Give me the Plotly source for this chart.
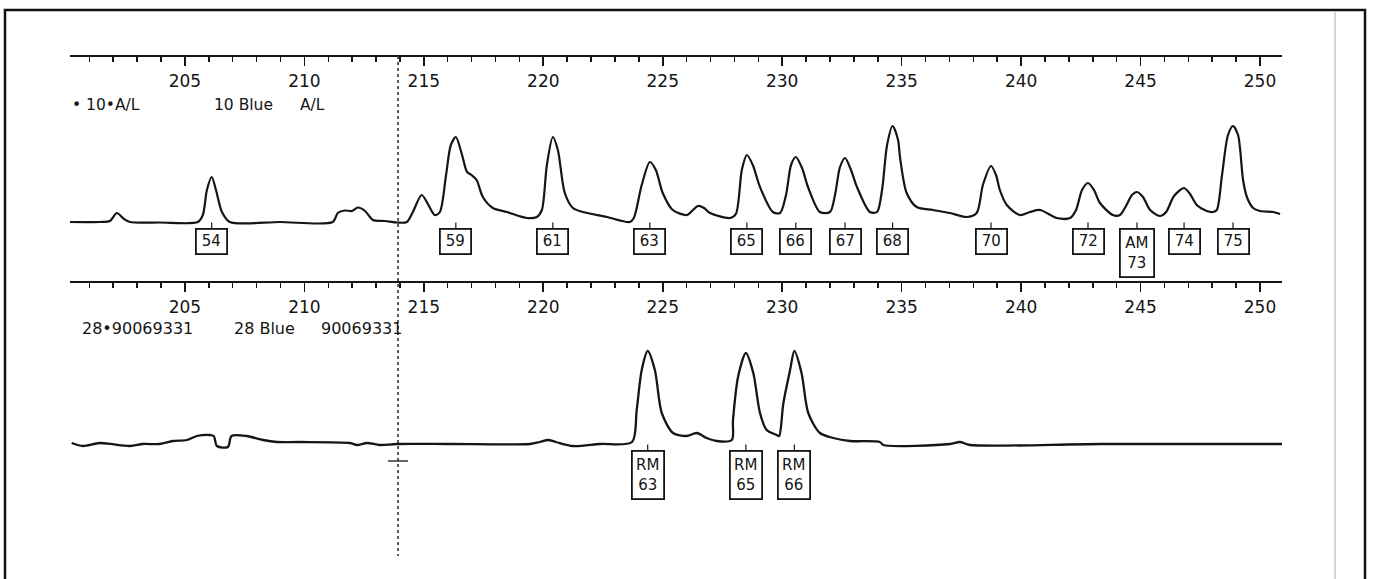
import plotly.graph_objects as go

W, H = 1374, 579

# ---- data (bp, signal) ----
top_bp = [200.19, 201.44, 201.86, 202.15, 202.45, 202.70, 203.95, 205.54, 205.75, 205.92, 206.12, 206.30, 206.55, 206.88,
          208.98, 211.19, 211.40, 211.70, 211.99, 212.24, 212.54, 212.87, 213.37, 213.87, 214.29, 214.54, 214.91, 215.17,
          215.46, 215.67, 215.93, 216.13, 216.34, 216.60, 216.81, 217.00, 217.21, 217.47, 217.89, 218.48, 219.32, 219.73,
          219.94, 220.15, 220.40, 220.61, 220.90, 221.24, 221.66, 222.66, 223.62, 223.79, 224.12, 224.46, 224.71, 225.00,
          225.42, 226.01, 226.27, 226.47, 226.73, 226.98, 227.81, 228.06, 228.31, 228.52, 228.77, 229.07, 229.61, 229.91,
          230.16, 230.37, 230.57, 230.83, 231.08, 231.58, 232.00, 232.21, 232.42, 232.63, 232.88, 233.13, 233.67, 233.97,
          234.18, 234.39, 234.62, 234.85, 234.93, 235.21, 235.63, 236.31, 237.02, 237.72, 238.14, 238.40, 238.74, 238.95,
          239.11, 239.40, 239.95, 240.37, 240.79, 241.49, 242.05, 242.30, 242.55, 242.80, 243.05, 243.30, 243.84, 244.14,
          244.39, 244.64, 244.85, 245.10, 245.40, 245.81, 246.07, 246.40, 246.82, 247.07, 247.35, 247.77, 248.03, 248.19,
          248.41, 248.66, 248.87, 249.08, 249.29, 249.45, 249.71, 250.00, 250.55, 250.84]
top_sig = [0, 0, 1, 9, 3, 0, -0.5, 0, 7, 32, 45, 32, 10, 0,
           0, 0, 9, 11.5, 11, 14.5, 11, 2, 1, -0.5, 0, 10, 27, 18,
           7, 10, 47, 77, 85, 67, 50, 47, 42, 25, 14, 10, 4, 5,
           12, 57, 85, 72, 29, 14, 10, 5, 0, 4, 37, 60, 52, 29,
           12, 7, 12, 16, 14, 9, 4, 8, 52, 67, 57, 35, 10, 9,
           27, 57, 65, 54, 35, 10, 10, 27, 55, 64, 52, 35, 10, 10,
           32, 77, 96, 82, 65, 29, 15, 12, 9, 5, 9, 37, 56, 47,
           32, 17, 7, 10, 12, 4, 4, 12, 32, 39, 32, 19, 7, 7,
           16, 27, 30, 25, 12, 6, 10, 26, 34, 28, 17, 11, 10, 12,
           47, 87, 96, 87, 42, 25, 14, 11, 10, 8]

bot_bp = [200.26, 200.73, 201.44, 202.70, 203.24, 203.95, 204.50, 205.08, 205.50, 206.05, 206.21, 206.34, 206.80, 206.95,
          207.58, 208.27, 208.85, 209.81, 211.91, 212.20, 212.62, 213.16, 213.87, 216.09, 219.44, 219.86, 220.20, 220.53,
          221.24, 222.37, 223.71, 223.91, 224.12, 224.37, 224.67, 224.96, 225.43, 226.00, 226.42, 226.84, 227.26, 227.89,
          227.94, 228.16, 228.48, 228.79, 229.07, 229.35, 229.77, 229.87, 230.05, 230.33, 230.51, 230.81, 231.09, 231.58,
          232.14, 232.84, 234.09, 234.23, 237.02, 237.44, 237.86, 243.30, 250.92]
bot_sig = [0, -3, 0, -3, -1, -1, 2, 3, 7, 8, 7, -3, -4, 7,
           7, 3, 1, 1, 0, -2, 0, -2, -1, -1, -1, 1, 3, 1,
           -3, -1, 1, 33, 73, 92, 73, 30, 10, 7, 10, 5, 2, 3,
           23, 67, 90, 70, 30, 13, 8, 7, 40, 73, 92, 70, 30, 10,
           5, 2, 1, -2, -1, 1, -2, -1, -1]

top_label_bp = [206.12, 216.34, 220.40, 224.46, 228.52, 230.57, 232.63, 234.62, 238.74, 242.80, 244.85, 246.82, 248.87]
top_label_txt = ["54", "59", "61", "63", "65", "66", "67", "68", "70", "72", "AM<br>73", "74", "75"]
bot_label_bp = [224.37, 228.48, 230.51]
bot_label_txt = ["RM<br>63", "RM<br>65", "RM<br>66"]

major_ticks = [205, 210, 215, 220, 225, 230, 235, 240, 245, 250]
x_range = [200.19, 250.92]
cursor_bp = 213.92

top_header = ["\u2022 10\u2022A/L", "10 Blue", "A/L"]
bot_header = ["28\u202290069331", "28 Blue", "90069331"]

# ---- figure ----
FONT = "DejaVu Sans, Verdana, sans-serif"
INK = "#151515"


def px_x(p):
    return p / W


def px_y(p):
    return 1 - p / H


fig = go.Figure()
fig.add_trace(go.Scatter(x=top_bp, y=top_sig, mode="lines",
                         line=dict(color=INK, width=2.2, shape="spline", smoothing=0.8),
                         xaxis="x", yaxis="y", hoverinfo="skip", showlegend=False))
fig.add_trace(go.Scatter(x=bot_bp, y=bot_sig, mode="lines",
                         line=dict(color=INK, width=2.3, shape="spline", smoothing=0.8),
                         xaxis="x2", yaxis="y2", hoverinfo="skip", showlegend=False))
# small ticks above label boxes
fig.add_trace(go.Scatter(x=top_label_bp, y=[-4] * len(top_label_bp), mode="markers",
                         marker=dict(symbol="line-ns-open", size=5, color=INK, line=dict(color=INK, width=1.2)),
                         xaxis="x", yaxis="y", hoverinfo="skip", showlegend=False))
fig.add_trace(go.Scatter(x=bot_label_bp, y=[-5] * len(bot_label_bp), mode="markers",
                         marker=dict(symbol="line-ns-open", size=5, color=INK, line=dict(color=INK, width=1.2)),
                         xaxis="x2", yaxis="y2", hoverinfo="skip", showlegend=False))

axis_common = dict(range=x_range, domain=[px_x(70), px_x(1282)], anchor="free", side="bottom",
                   showline=True, linecolor=INK, linewidth=2, showgrid=False, zeroline=False,
                   ticks="outside", ticklen=9, tickwidth=1.6, tickcolor=INK,
                   tickvals=major_ticks, ticktext=[str(v) for v in major_ticks],
                   tickfont=dict(family=FONT, size=17, color=INK), ticklabelstandoff=1,
                   minor=dict(dtick=1, tick0=200, ticks="outside", ticklen=5, tickwidth=1.5, tickcolor=INK),
                   fixedrange=True)

annotations = []
for bp, t in zip(top_label_bp, top_label_txt):
    two = "<br>" in t
    annotations.append(dict(x=bp, y=-6, xref="x", yref="y", text=t, showarrow=False, yanchor="top",
                            xanchor="center", width=29 if not two else 32, height=23 if not two else 46,
                            bordercolor=INK, borderwidth=1.8, borderpad=0, bgcolor="white",
                            font=dict(family=FONT, size=15, color=INK)))
for bp, t in zip(bot_label_bp, bot_label_txt):
    annotations.append(dict(x=bp, y=-7, xref="x2", yref="y2", text=t, showarrow=False, yanchor="top",
                            xanchor="center", width=30, height=46,
                            bordercolor=INK, borderwidth=1.8, borderpad=0, bgcolor="white",
                            font=dict(family=FONT, size=15, color=INK)))

for t, xp in zip(top_header, [70, 212, 298]):
    annotations.append(dict(x=px_x(xp), y=px_y(105), xref="paper", yref="paper", text=t, showarrow=False,
                            xanchor="left", yanchor="middle", font=dict(family=FONT, size=15.5, color=INK)))
for t, xp in zip(bot_header, [80, 232, 319]):
    annotations.append(dict(x=px_x(xp), y=px_y(329), xref="paper", yref="paper", text=t, showarrow=False,
                            xanchor="left", yanchor="middle", font=dict(family=FONT, size=16, color=INK)))

shapes = [
    dict(type="line", xref="x", yref="paper", x0=cursor_bp, x1=cursor_bp, y0=px_y(56), y1=px_y(556),
         line=dict(color="#333", width=1.6, dash="dot")),
    dict(type="line", xref="x2", yref="y2", x0=cursor_bp - 0.42, x1=cursor_bp + 0.42, y0=-18, y1=-18,
         line=dict(color="#333", width=1.5)),
    dict(type="rect", xref="paper", yref="paper", x0=px_x(5), x1=px_x(1365), y0=px_y(600), y1=px_y(10),
         line=dict(color="#111", width=2.5)),
    dict(type="line", xref="paper", yref="paper", x0=px_x(1335), x1=px_x(1335), y0=px_y(600), y1=px_y(11),
         line=dict(color="#c8c8c8", width=1.5)),
]

fig.update_layout(
    width=W, height=H, autosize=False,
    margin=dict(l=0, r=0, t=0, b=0),
    paper_bgcolor="white", plot_bgcolor="rgba(0,0,0,0)",
    xaxis=dict(**axis_common, position=px_y(56)),
    xaxis2=dict(**axis_common, position=px_y(282)),
    yaxis=dict(domain=[px_y(270), px_y(60)], range=[-48, 162], visible=False, fixedrange=True),
    yaxis2=dict(domain=[px_y(560), px_y(290)], range=[-117, 153], visible=False, fixedrange=True),
    annotations=annotations,
    shapes=shapes,
    showlegend=False,
)

fig.write_html("out.html", config={"displayModeBar": False, "staticPlot": True},
               post_script="document.body.style.margin='0';document.body.style.overflow='hidden';")
